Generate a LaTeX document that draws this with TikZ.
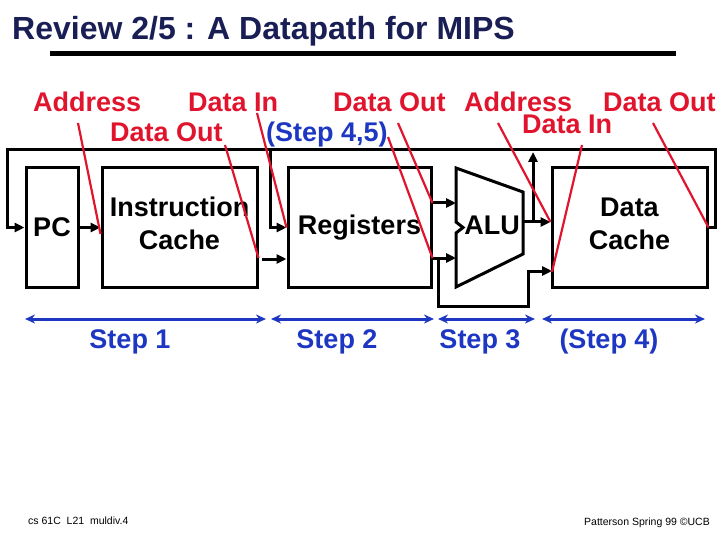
\documentclass[tikz,border=0pt]{standalone}
\usepackage{fontspec}
\setmainfont{Liberation Sans}
\usetikzlibrary{arrows.meta}

\definecolor{ptred}{RGB}{225,20,45}
\definecolor{stepblue}{RGB}{30,55,195}
\definecolor{titlenavy}{RGB}{25,30,85}

\tikzset{
  unit/.style={draw, line width=3pt, font=\fontsize{27}{33}\selectfont\bfseries, align=center, minimum height=119pt},
  wire/.style={line width=3pt, -{Triangle[length=10pt,width=9pt]}},
  pointer/.style={draw=ptred, line width=2.2pt},
  redlabel/.style={anchor=base west, inner sep=0pt, text=ptred, font=\fontsize{27}{33}\selectfont\bfseries},
  steparrow/.style={draw=stepblue, line width=3pt, {Stealth[length=10pt,width=9pt]}-{Stealth[length=10pt,width=9pt]}},
  steptext/.style={anchor=base, inner sep=0pt, text=stepblue, font=\fontsize{27}{33}\selectfont\bfseries},
  footer/.style={inner sep=0pt, font=\fontsize{10.5}{12}\selectfont}
}

\begin{document}
\begin{tikzpicture}[x=1pt, y=-1pt]
    \useasboundingbox (0,0) rectangle (720,540);

    % Title
    \node[anchor=base west, inner sep=0pt, text=titlenavy, font=\fontsize{32}{38}\selectfont\bfseries] (title) at (12,39.5) {Review 2/5 : A Datapath for MIPS};
    \fill (50,51.5) rectangle (676,56.5);

    % Draw nodes
    \node[unit, minimum width=52pt] (pc) at (52,227.5) {PC};
    \node[unit, minimum width=155pt, text depth=8pt] (ic) at (179.5,227.5) {Instruction\\Cache};
    \node[unit, minimum width=143pt] (reg) at (359.5,227.5) {Registers};
    \node[unit, minimum width=155pt, text depth=8pt] (dc) at (629.5,227.5) {Data\\Cache};
    \draw[line width=3pt] (456,168) -- (523,192) -- (523,254) -- (456,287) -- (456,233) -- (463,227.5) -- (456,222) -- cycle;
    \node[font=\fontsize{27}{33}\selectfont\bfseries] (alu) at (492,225.5) {ALU};

    % Ports
    \coordinate (busR) at (715,150);
    \coordinate (busL) at (7,150);
    \coordinate (regtap) at (270,150);
    \coordinate (icout) at (262,259);
    \coordinate (aluinA) at (456,203);
    \coordinate (aluinB) at (456,258);
    \coordinate (bypass) at (438,258);
    \coordinate (dcin) at (552,271);
    \coordinate (aluout) at (523,222);
    \coordinate (aluup) at (533,222);

    % Draw connections
    \draw[wire] (dc.east) -| (busR) -- (busL) |- (pc.west);
    \draw[wire] (pc) -- (ic);
    \draw[wire] (regtap) |- (reg.west);
    \draw[wire] (icout) -- (icout -| reg.west);
    \draw[wire] (aluinA -| reg.east) -- (aluinA);
    \draw[wire] (aluinB -| reg.east) -- (aluinB);
    \draw[wire] (bypass) -- ++(0,48) -| ([xshift=-24pt]dcin) -- (dcin);
    \draw[wire] (aluout) -- (aluout -| dc.west);
    \draw[wire] (aluup) -- ++(0,-70);

    % Labels
    \node[redlabel] (adrA) at (33,112) {Address};
    \node[redlabel] (dinA) at (188,112) {Data In};
    \node[redlabel] (doutB) at (333,112) {Data Out};
    \node[redlabel] (adrB) at (464,112) {Address};
    \node[redlabel] (doutC) at (603,112) {Data Out};
    \node[redlabel] (doutA) at (110,142) {Data Out};
    \node[redlabel] (dinB) at (522,134) {Data In};
    \node[redlabel, text=stepblue] (regsteps) at (266,142) {(Step 4,5)};

    % Pointers
    \draw[pointer] ([xshift=45pt,yshift=-11pt]adrA.base west) -- ([yshift=-6.5pt]ic.west);
    \draw[pointer] ([xshift=115pt,yshift=-3pt]doutA.base west) -- ([yshift=-30.5pt]ic.east);
    \draw[pointer] ([xshift=69pt,yshift=-1pt]dinA.base west) -- (reg.west);
    \draw[pointer] ([xshift=65pt,yshift=-11pt]doutB.base west) -- (aluinA -| reg.east);
    \draw[pointer] ([xshift=55pt,yshift=-25pt]doutB.base west) -- (aluinB -| reg.east);
    \draw[pointer] ([xshift=34pt,yshift=-11pt]adrB.base west) -- (aluout -| dc.west);
    \draw[pointer] ([xshift=60pt,yshift=-11pt]dinB.base west) -- ([yshift=-1pt]dcin);
    \draw[pointer] ([xshift=50pt,yshift=-11pt]doutC.base west) -- (dc.east);

    % Steps
    \coordinate (st0) at (25,319);
    \coordinate (st1) at (266,319);
    \coordinate (st2) at (271,319);
    \coordinate (st3) at (434,319);
    \coordinate (st4) at (438,319);
    \coordinate (st5) at (535,319);
    \coordinate (st6) at (542,319);
    \coordinate (st7) at (705,319);
    \draw[steparrow] (st0) -- (st1);
    \draw[steparrow] (st2) -- (st3);
    \draw[steparrow] (st4) -- (st5);
    \draw[steparrow] (st6) -- (st7);
    \node[steptext] (step1) at (130,348) {Step 1};
    \node[steptext] (step2) at (337,348) {Step 2};
    \node[steptext] (step3) at (480,348) {Step 3};
    \node[steptext] (step4) at (609,348) {(Step 4)};

    % Footer
    \node[footer, anchor=west] (footL) at (28,521) {cs 61C\ \ L21\ \ muldiv.4};
    \node[footer, anchor=east] (footR) at (710,523) {Patterson Spring 99 ©UCB};
\end{tikzpicture}
\end{document}
